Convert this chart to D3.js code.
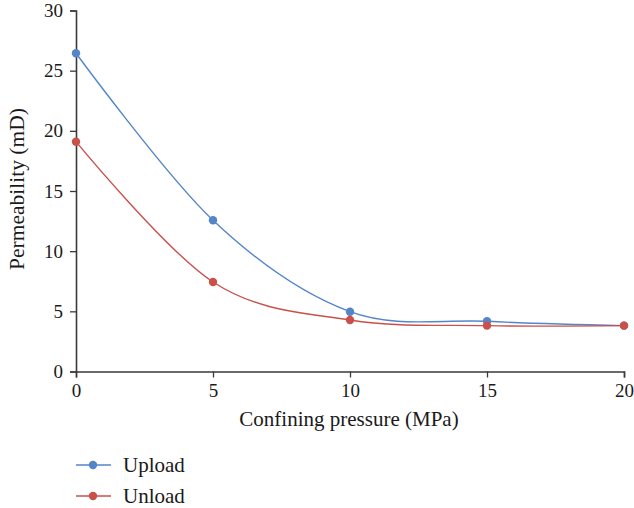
<!DOCTYPE html>
<html><head><meta charset="utf-8">
<script src="https://cdn.jsdelivr.net/npm/d3@7"></script>
<style>body{margin:0;background:#fff}svg{display:block}text{font-family:"Liberation Serif","DejaVu Serif",serif;fill:#1a1a1a}</style>
</head><body><svg id="c" width="634" height="508"></svg>
<script>
const pressure = [0, 5, 10, 15, 20];
const upload = [26.45, 12.57, 4.97, 4.17, 3.81];
const unload = [19.1, 7.44, 4.28, 3.81, 3.81];
const xTicks = [0, 5, 10, 15, 20];
const yTicks = [0, 5, 10, 15, 20, 25, 30];
const seriesNames = ["Upload", "Unload"];
const colors = ["#5585c9", "#c9504b"];

const svg = d3.select("#c");
const x = d3.scaleLinear().domain([0, 20]).range([76, 624]);
const y = d3.scaleLinear().domain([0, 30]).range([371.5, 10.5]);

const axisCol = "#3a3a3a";
const gx = svg.append("g").attr("transform", `translate(0,${y(0)})`)
  .call(d3.axisBottom(x).tickValues(xTicks).tickSize(6).tickPadding(6).tickFormat(d3.format("d")));
const gy = svg.append("g").attr("transform", `translate(${x(0)},0)`)
  .call(d3.axisLeft(y).tickValues(yTicks).tickSize(6).tickPadding(7).tickFormat(d3.format("d")));
[gx, gy].forEach(g => {
  g.attr("font-family", "Liberation Serif").attr("font-size", 19);
  g.select(".domain").attr("stroke", axisCol).attr("stroke-width", 1.6);
  g.selectAll(".tick line").attr("stroke", axisCol).attr("stroke-width", 1.3);
  g.selectAll(".tick text").attr("font-size", 19).attr("fill", "#1a1a1a");
});

const data = [upload, unload];
const line = d3.line().x((d, i) => x(pressure[i])).y(d => y(d)).curve(d3.curveCatmullRom.alpha(0));
data.forEach((vals, k) => {
  svg.append("path").attr("d", line(vals)).attr("fill", "none")
    .attr("stroke", colors[k]).attr("stroke-width", 1.4);
});
data.forEach((vals, k) => {
  svg.selectAll(null).data(vals).enter().append("circle")
    .attr("cx", (d, i) => x(pressure[i])).attr("cy", d => y(d)).attr("r", 4.2)
    .attr("fill", colors[k]);
});

svg.append("text").attr("x", 349).attr("y", 426).attr("text-anchor", "middle")
  .attr("font-size", 21).text("Confining pressure (MPa)");
svg.append("text").attr("transform", `translate(24,189) rotate(-90)`).attr("text-anchor", "middle")
  .attr("font-size", 21.5).text("Permeability (mD)");

const legY = [465, 496];
seriesNames.forEach((n, k) => {
  svg.append("line").attr("x1", 76).attr("x2", 111).attr("y1", legY[k]).attr("y2", legY[k])
    .attr("stroke", colors[k]).attr("stroke-width", 1.4);
  svg.append("circle").attr("cx", 93).attr("cy", legY[k]).attr("r", 4.2).attr("fill", colors[k]);
  svg.append("text").attr("x", 123).attr("y", legY[k] + 6.5).attr("font-size", 21).text(n);
});
</script></body></html>
